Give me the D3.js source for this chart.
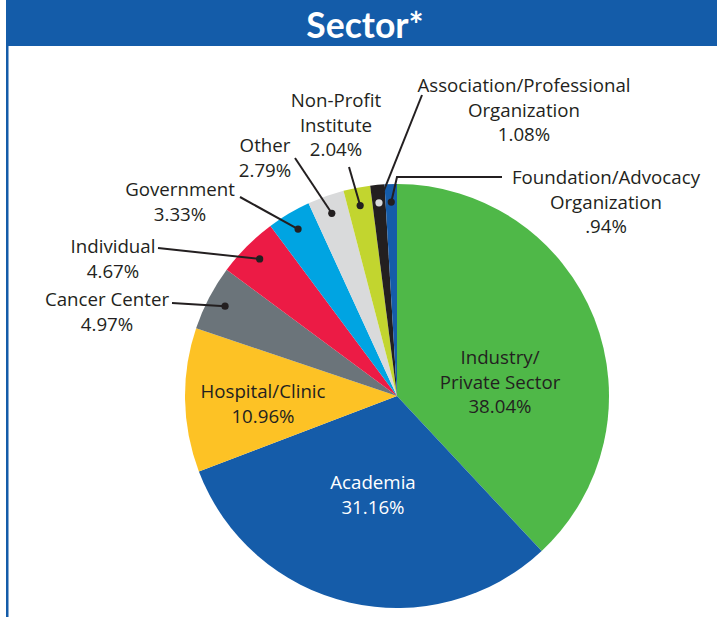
<!DOCTYPE html>
<html>
<head>
<meta charset="utf-8">
<script src="https://cdn.jsdelivr.net/npm/d3@7"></script>
<style>
  html, body { margin: 0; padding: 0; background: #fff; }
  svg { display: block; }
  text { font-family: "Open Sans", Lato, sans-serif; }
</style>
</head>
<body>
<svg id="chart" width="717" height="617"></svg>
<script>
// data
var sectors = ["Industry/Private Sector", "Academia", "Hospital/Clinic", "Cancer Center", "Individual",
  "Government", "Other", "Non-Profit Institute", "Association/Professional Organization",
  "Foundation/Advocacy Organization"];
var shares = [38.04, 31.16, 10.96, 4.97, 4.67, 3.33, 2.79, 2.04, 1.08, 0.94];
var shareLabels = ["38.04%", "31.16%", "10.96%", "4.97%", "4.67%", "3.33%", "2.79%", "2.04%", "1.08%", ".94%"];
var colors = ["#4fb848", "#155ca9", "#fdc225", "#6b747a", "#ec1b45", "#00a4e2", "#d9dadb", "#c2d52f", "#231f20", "#155ca9"];

// label layout: text lines, anchor, first baseline, leader start (null = inside label)
var layout = [
  { lines: ["Industry/", "Private Sector"], x: 500, y: 364, fill: "#231f20", lead: null },
  { lines: ["Academia"], x: 373, y: 489, fill: "#fff", lead: null },
  { lines: ["Hospital/Clinic"], x: 263, y: 398, fill: "#231f20", lead: null },
  { lines: ["Cancer Center"], x: 107, y: 306, fill: "#231f20", lead: [[172, 303]] },
  { lines: ["Individual"], x: 113, y: 253, fill: "#231f20", lead: [[158, 248]] },
  { lines: ["Government"], x: 180, y: 196, fill: "#231f20", lead: [[240, 197]] },
  { lines: ["Other"], x: 265, y: 152, fill: "#231f20", lead: [[295, 158]] },
  { lines: ["Non-Profit", "Institute"], x: 336, y: 107, fill: "#231f20", lead: [[349, 167]] },
  { lines: ["Association/Professional", "Organization"], x: 524, y: 92, fill: "#231f20", lead: [[422, 95]] },
  { lines: ["Foundation/Advocacy", "Organization"], x: 606, y: 184, fill: "#231f20", lead: [[502, 177], [397, 177]] }
];

var svg = d3.select("#chart");
var W = 717, H = 617;

// header band + frame
svg.append("rect").attr("x", 6).attr("y", 0).attr("width", W - 6).attr("height", 46).attr("fill", "#145ca9");
svg.append("rect").attr("x", 6).attr("y", 46).attr("width", 2.5).attr("height", H - 46).attr("fill", "#145ca9");
svg.append("text").attr("x", 365).attr("y", 38).attr("text-anchor", "middle")
  .style("font-family", "Lato, sans-serif")
  .attr("fill", "#fff").attr("font-size", 35.5).attr("font-weight", "bold").text("Sector*");

var cx = 397, cy = 396, R = 212;
var pie = d3.pie().sort(null).value(function(d) { return d; });
var arcs = pie(shares);
var arc = d3.arc().innerRadius(0).outerRadius(R);
var dotArc = d3.arc().innerRadius(R - 18).outerRadius(R - 18);

var g = svg.append("g").attr("transform", "translate(" + cx + "," + cy + ")");
g.selectAll("path.slice").data(arcs).enter().append("path")
  .attr("class", "slice")
  .attr("d", arc)
  .attr("fill", function(d, i) { return colors[i]; });

// leaders
arcs.forEach(function(a, i) {
  var L = layout[i];
  if (!L.lead) return;
  var p = dotArc.centroid(a);
  var pts = L.lead.map(function(q) { return [q[0] - cx, q[1] - cy]; });
  pts.push(p);
  g.append("path").attr("d", d3.line()(pts)).attr("fill", "none")
    .attr("stroke", "#231f20").attr("stroke-width", 2);
  g.append("circle").attr("cx", p[0]).attr("cy", p[1]).attr("r", 3.6)
    .attr("fill", i === 8 ? "#d9dadb" : "#231f20");
});

// labels
layout.forEach(function(L, i) {
  var t = svg.append("text").attr("text-anchor", "middle").attr("font-size", 18.7)
    .attr("fill", L.fill);
  L.lines.concat([shareLabels[i]]).forEach(function(s, k) {
    t.append("tspan").attr("x", L.x).attr("y", L.y + k * 24.5).text(s);
  });
});
</script>
</body>
</html>
